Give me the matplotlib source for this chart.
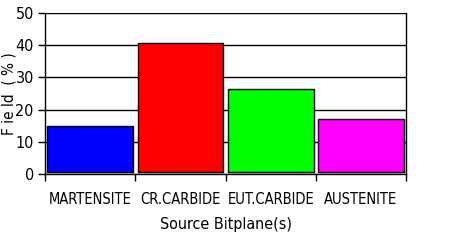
import matplotlib
matplotlib.use("Agg")
import matplotlib.pyplot as plt
from matplotlib import font_manager
import numpy as np

categories = ["MARTENSITE", "CR.CARBIDE", "EUT.CARBIDE", "AUSTENITE"]
field = [15.0, 40.6, 26.3, 17.0]
bar_colors = ["#0000ff", "#ff0000", "#00ff00", "#ff00ff"]
yticks = [0, 10, 20, 30, 40, 50]

names = [f.name for f in font_manager.fontManager.ttflist]
if "Liberation Sans Narrow" in names:
    plt.rcParams["font.family"] = "Liberation Sans Narrow"
else:
    plt.rcParams["font.family"] = "DejaVu Sans"
    plt.rcParams["font.stretch"] = "condensed"

fig = plt.figure(figsize=(4.72, 2.43), dpi=100)
ax = fig.add_axes([0.0953, 0.284, 0.765, 0.6626])

# bars sit a little above the zero line like in the original
base = 0.7
x = np.arange(len(categories))
ax.bar(x, np.array(field) - base, width=0.95, bottom=base, color=bar_colors,
       edgecolor="black", linewidth=1, zorder=3)

ax.set_xlim(-0.5, len(categories) - 0.5)
ax.set_ylim(0, 50)
ax.set_yticks(yticks)
ax.set_yticklabels([str(v) for v in yticks], fontsize=11.5)
ax.yaxis.grid(True, color="black", linewidth=1)
ax.set_axisbelow(True)

# category labels, tick marks on the boundaries
ax.set_xticks(x)
ax.set_xticklabels(categories, fontsize=10.5)
ax.tick_params(axis="x", length=0, pad=13)
ax.set_xticks(np.arange(len(categories) + 1) - 0.5, minor=True)
ax.tick_params(axis="x", which="minor", length=5, width=1, color="black")
ax.tick_params(axis="y", length=5, width=1, pad=3)

for s in ["left", "right", "bottom"]:
    ax.spines[s].set_linewidth(1)
ax.spines["top"].set_visible(False)

ax.set_xlabel("Source Bitplane(s)", fontsize=11.5, labelpad=7)
ax.set_ylabel("F ie ld  ( % )", fontsize=11)
ax.yaxis.label.set_va("center")
ax.yaxis.set_label_coords(-0.1, 0.5)

fig.savefig("out.png", dpi=100)
